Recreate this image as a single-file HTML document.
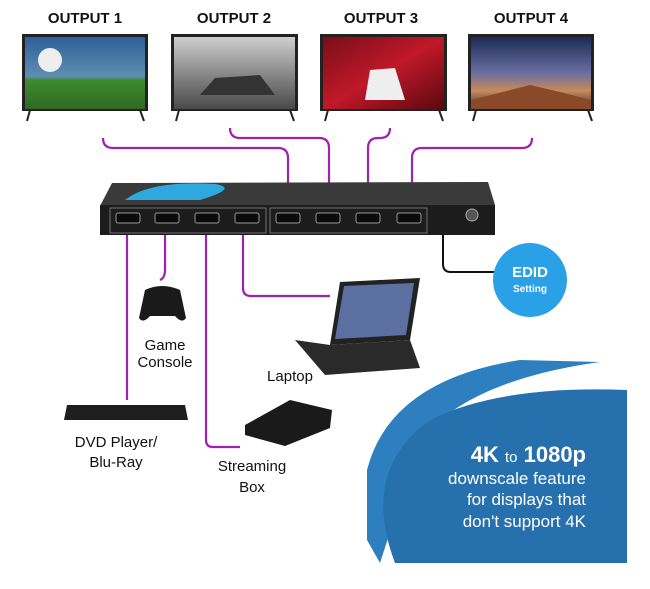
<!DOCTYPE html>
<html><head><meta charset="utf-8"><style>
html,body{margin:0;padding:0;background:#fff;}
svg{display:block;font-family:"Liberation Sans",sans-serif;}
</style></head><body>
<svg width="650" height="589" viewBox="0 0 650 589" xmlns="http://www.w3.org/2000/svg">
<defs>
<linearGradient id="s1" x1="0" y1="0" x2="0" y2="1"><stop offset="0" stop-color="#2d5f9a"/><stop offset=".55" stop-color="#5f8fb0"/><stop offset=".6" stop-color="#3d8a30"/><stop offset="1" stop-color="#2f6a22"/></linearGradient>
<linearGradient id="s2" x1="0" y1="0" x2="0" y2="1"><stop offset="0" stop-color="#cfcfcf"/><stop offset=".5" stop-color="#8a8a8a"/><stop offset="1" stop-color="#4a4a4a"/></linearGradient>
<linearGradient id="s3" x1="0" y1="0" x2="1" y2="1"><stop offset="0" stop-color="#7a0d1a"/><stop offset=".5" stop-color="#c01828"/><stop offset="1" stop-color="#5a0810"/></linearGradient>
<linearGradient id="s4" x1="0" y1="0" x2="0" y2="1"><stop offset="0" stop-color="#1c2a55"/><stop offset=".5" stop-color="#6a6fa0"/><stop offset=".75" stop-color="#c88a5a"/><stop offset="1" stop-color="#3a3040"/></linearGradient>
</defs>
<g font-weight="bold" font-size="15" fill="#111" text-anchor="middle">
<text x="85" y="23">OUTPUT 1</text><text x="234" y="23">OUTPUT 2</text><text x="381" y="23">OUTPUT 3</text><text x="531" y="23">OUTPUT 4</text>
</g>
<g stroke="#222" stroke-width="2">
<line x1="30" y1="110" x2="27" y2="121"/><line x1="140" y1="110" x2="144" y2="121"/>
<line x1="179" y1="110" x2="176" y2="121"/><line x1="290" y1="110" x2="294" y2="121"/>
<line x1="328" y1="110" x2="325" y2="121"/><line x1="439" y1="110" x2="443" y2="121"/>
<line x1="476" y1="110" x2="473" y2="121"/><line x1="588" y1="110" x2="592" y2="121"/>
</g>
<rect x="22" y="34" width="126" height="77" fill="#222"/><rect x="25" y="37" width="120" height="72" fill="url(#s1)"/>
<circle cx="50" cy="60" r="12" fill="#eee"/>
<rect x="171" y="34" width="127" height="77" fill="#222"/><rect x="174" y="37" width="121" height="72" fill="url(#s2)"/>
<path d="M200 95 L215 78 L260 75 L275 95 Z" fill="#333"/>
<rect x="320" y="34" width="127" height="77" fill="#222"/><rect x="323" y="37" width="121" height="72" fill="url(#s3)"/>
<path d="M370 70 L395 68 L405 100 L365 100 Z" fill="#eee"/>
<rect x="468" y="34" width="126" height="77" fill="#222"/><rect x="471" y="37" width="120" height="72" fill="url(#s4)"/>
<path d="M471 100 L530 85 L560 92 L591 100 L591 109 L471 109Z" fill="#8a4a2a"/>
<g fill="none" stroke="#a020b0" stroke-width="2.2">
<path d="M103 138 Q103 148 113 148 L278 148 Q288 148 288 158 L288 204"/>
<path d="M230 128 Q230 138 240 138 L319 138 Q329 138 329 148 L329 204"/>
<path d="M390 128 Q390 138 380 138 L378 138 Q368 138 368 148 L368 204"/>
<path d="M532 138 Q532 148 522 148 L422 148 Q412 148 412 158 L412 204"/>
<path d="M127 235 L127 400"/>
<path d="M165 235 L165 270 Q165 278 160 280"/>
<path d="M206 235 L206 440 Q206 447 213 447 L240 447"/>
<path d="M243 235 L243 288 Q243 296 251 296 L330 296"/>
</g>
<path d="M443 235 L443 264 Q443 272 451 272 L495 272" fill="none" stroke="#111" stroke-width="2"/>
<path d="M112 183 L488 182 L495 205 L100 206 Z" fill="#3a3a3a"/>
<path d="M125 200 Q150 180 215 184 Q240 188 200 200 Z" fill="#2fa8e0"/>
<rect x="100" y="205" width="395" height="30" fill="#1c1c1c"/>
<g fill="none" stroke="#888" stroke-width="0.8"><rect x="110" y="208" width="156" height="25"/><rect x="270" y="208" width="157" height="25"/></g>
<g fill="#0a0a0a" stroke="#999" stroke-width="1">
<rect x="116" y="213" width="24" height="10" rx="2"/><rect x="155" y="213" width="24" height="10" rx="2"/><rect x="195" y="213" width="24" height="10" rx="2"/><rect x="235" y="213" width="24" height="10" rx="2"/>
<rect x="276" y="213" width="24" height="10" rx="2"/><rect x="316" y="213" width="24" height="10" rx="2"/><rect x="356" y="213" width="24" height="10" rx="2"/><rect x="397" y="213" width="24" height="10" rx="2"/>
</g>
<circle cx="472" cy="215" r="6" fill="#555" stroke="#aaa"/>
<circle cx="530" cy="280" r="37" fill="#2aa0e6"/>
<text x="530" y="277" font-size="15" font-weight="bold" fill="#fff" text-anchor="middle">EDID</text>
<text x="530" y="292" font-size="10" font-weight="bold" fill="#fff" text-anchor="middle">Setting</text>
<path d="M145 290 Q162 282 180 290 L186 318 Q182 324 175 316 L150 316 Q143 324 139 318 Z" fill="#1a1a1a"/>
<g font-size="15" fill="#111" text-anchor="middle">
<text x="165" y="350">Game</text><text x="165" y="367">Console</text>
<text x="290" y="381">Laptop</text>
<text x="116" y="447">DVD Player/</text><text x="116" y="467">Blu-Ray</text>
<text x="252" y="471">Streaming</text><text x="252" y="492">Box</text>
</g>
<path d="M340 282 L420 278 L410 340 L330 345 Z" fill="#222"/><path d="M344 286 L414 283 L406 335 L335 339 Z" fill="#5b6fa0"/>
<path d="M330 345 L410 340 L420 368 L325 375 L295 340 Z" fill="#2a2a2a"/>
<path d="M67 405 L185 405 L188 420 L64 420 Z" fill="#1e1e1e"/>
<path d="M245 425 L290 400 L332 410 L330 428 L285 446 L245 435 Z" fill="#1a1a1a"/>
<path d="M367 470 Q390 380 520 360 L600 362 Q470 380 420 440 L380 563 L367 540Z" fill="#2e7fc0"/>
<path d="M395 563 Q360 470 430 420 Q500 385 627 390 L627 563 Z" fill="#2670ad"/>
<g fill="#fff" text-anchor="end">
<text x="586" y="462" font-size="22" font-weight="bold">4K <tspan font-size="15" font-weight="normal">to</tspan> 1080p</text>
<text x="586" y="484" font-size="17">downscale feature</text>
<text x="586" y="505" font-size="17">for displays that</text>
<text x="586" y="527" font-size="17">don't support 4K</text>
</g>
</svg>
</body></html>
